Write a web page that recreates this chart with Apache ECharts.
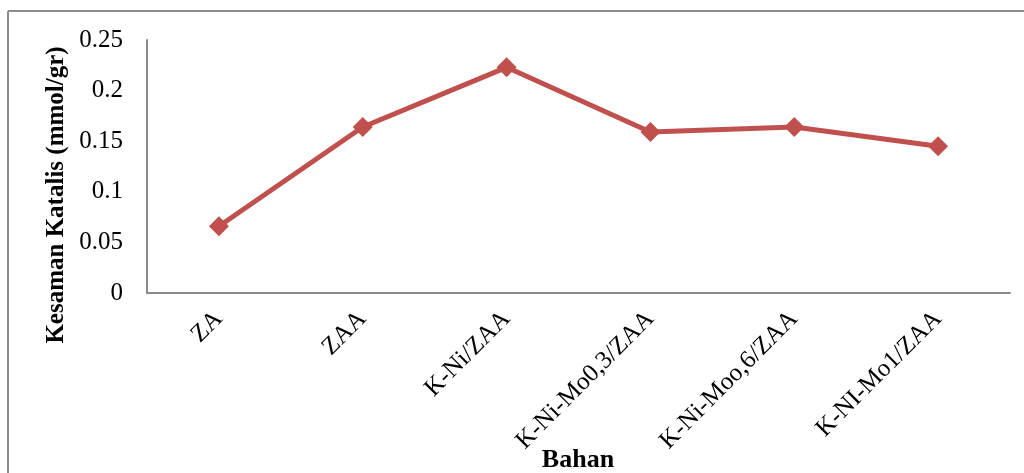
<!DOCTYPE html>
<html>
<head>
<meta charset="utf-8">
<style>
  html, body { margin: 0; padding: 0; background: #fff; }
  #chart { width: 1024px; height: 473px; }
</style>
<script src="https://cdn.jsdelivr.net/npm/echarts@6/dist/echarts.min.js"></script>
</head>
<body>
<div id="chart"></div>
<script>
const categories = ['ZA', 'ZAA', 'K-Ni/ZAA', 'K-Ni-Mo0,3/ZAA', 'K-Ni-Moo,6/ZAA', 'K-NI-Mo1/ZAA']
const keasaman = [0.066, 0.164, 0.223, 0.159, 0.164, 0.145]
const yTicks = [0, 0.05, 0.1, 0.15, 0.2, 0.25]
const xTitle = 'Bahan'
const yTitle = 'Kesaman Katalis (mmol/gr)'

const font = 'Liberation Serif, Times New Roman, serif'
const axisColor = '#8a8a8a'
const frameColor = '#8c8c8c'

const chart = echarts.init(document.getElementById('chart'))

const option = {
  animation: false,
  backgroundColor: '#fff',
  grid: {
    left: 147,
    right: 14,
    top: 40,
    bottom: 180,
    outerBoundsMode: 'none',
    containLabel: false
  },
  graphic: [
    // chart frame (only top and left edges are visible in the crop)
    {
      type: 'line',
      shape: { x1: 8, y1: 11, x2: 1024, y2: 11 },
      style: { stroke: frameColor, lineWidth: 2 },
      silent: true
    },
    {
      type: 'line',
      shape: { x1: 8, y1: 11, x2: 8, y2: 473 },
      style: { stroke: frameColor, lineWidth: 2 },
      silent: true
    },
    {
      type: 'text',
      x: 57,
      y: 195,
      rotation: Math.PI / 2,
      style: {
        text: yTitle,
        font: 'bold 25px ' + font,
        fill: '#000',
        align: 'center',
        verticalAlign: 'middle'
      }
    },
    {
      type: 'text',
      x: 578,
      y: 460,
      style: {
        text: xTitle,
        font: 'bold 26px ' + font,
        fill: '#000',
        align: 'center',
        verticalAlign: 'middle'
      }
    }
  ],
  xAxis: {
    type: 'category',
    data: categories,
    boundaryGap: true,
    axisLine: { lineStyle: { color: axisColor, width: 2 } },
    axisTick: { show: false },
    axisLabel: {
      rotate: 45,
      margin: 22,
      fontFamily: font,
      fontSize: 25,
      color: '#000',
      interval: 0
    }
  },
  yAxis: {
    type: 'value',
    min: 0,
    max: 0.25,
    interval: 0.05,
    axisLine: { show: true, lineStyle: { color: axisColor, width: 2 } },
    axisTick: { show: false },
    splitLine: { show: false },
    axisLabel: {
      margin: 24,
      fontFamily: font,
      fontSize: 25,
      color: '#000',
      formatter: v => {
        const t = yTicks.find(k => Math.abs(k - v) < 1e-9)
        return t === undefined ? '' : String(t)
      }
    }
  },
  series: [
    {
      type: 'line',
      data: keasaman,
      symbol: 'diamond',
      symbolSize: 20,
      lineStyle: { color: '#C0504D', width: 5 },
      itemStyle: { color: '#C0504D' }
    }
  ]
}

chart.setOption(option)
</script>
</body>
</html>
